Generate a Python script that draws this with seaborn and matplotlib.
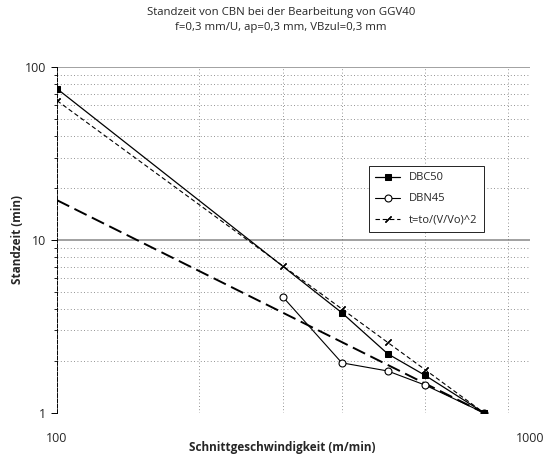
import matplotlib
matplotlib.use("Agg")
import matplotlib.pyplot as plt
import seaborn as sns
from matplotlib.ticker import FixedLocator, NullFormatter

# Cutting speed (m/min) and tool life (min)
v_dbc50 = [100, 400, 500, 600, 800]
t_dbc50 = [75, 3.8, 2.2, 1.65, 1.0]

v_dbn45 = [300, 400, 500, 600, 800]
t_dbn45 = [4.7, 1.95, 1.75, 1.45, 1.0]

v_taylor = [100, 300, 400, 500, 600, 800]
t_taylor = [64, 7.1, 4.0, 2.56, 1.78, 1.0]

v_trend = [100, 800]
t_trend = [17, 1.0]

title = "Standzeit von CBN bei der Bearbeitung von GGV40\nf=0,3 mm/U, ap=0,3 mm, VBzul=0,3 mm"
x_label = "Schnittgeschwindigkeit (m/min)"
y_label = "Standzeit (min)"
x_ticks = [100, 1000]
y_ticks = [1, 10, 100]

sns.set_theme(style="white")
plt.rcParams["font.family"] = ["Open Sans", "DejaVu Sans"]

fig = plt.figure(figsize=(5.45, 4.63), dpi=100)
ax = fig.add_axes([0.1046, 0.108, 0.868, 0.747])
ax.set_xscale("log")
ax.set_yscale("log")

ink = "black"
sns.lineplot(x=v_trend, y=t_trend, ax=ax, color=ink, lw=1.4,
             linestyle=(0, (7, 3)), label="_trend")
sns.lineplot(x=v_taylor, y=t_taylor, ax=ax, color=ink, lw=0.8,
             linestyle=(0, (4, 2.5)), marker=(2, 2, -45), markersize=6,
             markeredgewidth=0.9, markeredgecolor=ink,
             label="t=to/(V/Vo)^2")
sns.lineplot(x=v_dbn45, y=t_dbn45, ax=ax, color=ink, lw=0.8,
             marker="o", markersize=5, markerfacecolor="white",
             markeredgecolor=ink, markeredgewidth=0.8, label="DBN45")
sns.lineplot(x=v_dbc50, y=t_dbc50, ax=ax, color=ink, lw=0.9,
             marker="s", markersize=5, markerfacecolor=ink,
             markeredgecolor=ink, label="DBC50")

ax.set_xlim(100, 1000)
ax.set_ylim(1, 100)

# grid: solid grey decades, dotted in-between values
ax.yaxis.set_major_locator(FixedLocator(y_ticks))
ax.yaxis.set_minor_locator(FixedLocator(
    [k * d for d in (1, 10) for k in range(2, 10)]))
ax.xaxis.set_major_locator(FixedLocator(x_ticks))
ax.xaxis.set_minor_locator(FixedLocator([200, 300, 400, 600, 900]))
ax.yaxis.set_minor_formatter(NullFormatter())
ax.xaxis.set_minor_formatter(NullFormatter())
ax.set_yticklabels([str(v) for v in y_ticks])
ax.set_xticklabels([str(v) for v in x_ticks])

ax.grid(False)
for yv in (10, 100):
    ax.axhline(yv, color="#9a9a9a", lw=1.3, zorder=0)
ax.grid(which="minor", axis="y", color="#707070", lw=0.6,
        linestyle=(0, (1, 3)), zorder=0)
ax.grid(which="minor", axis="x", color="#707070", lw=0.6,
        linestyle=(0, (1, 3)), zorder=0)
ax.axhline(1, color="#707070", lw=0.7, linestyle=(0, (3, 2)), zorder=0)

for s in ("top", "right", "bottom"):
    ax.spines[s].set_visible(False)
ax.spines["left"].set_color(ink)
ax.spines["left"].set_linewidth(0.7)
ax.spines["left"].set_linestyle((0, (4, 1.5)))

ax.tick_params(axis="y", which="major", left=True, length=4, width=0.7,
               color=ink, labelsize=9, pad=4)
ax.tick_params(axis="y", which="minor", left=True, length=2, width=0.6,
               color=ink)
ax.tick_params(axis="x", which="both", bottom=False, labelsize=9, pad=8)

fig.text(282 / 545, 1 - 447 / 463, x_label, ha="center", va="center",
         fontsize=8.5, fontweight="bold")
fig.text(18 / 545, 1 - 240 / 463, y_label, ha="center", va="center",
         rotation=90, fontsize=8.5, fontweight="bold")

fig.text(0.516, 0.985, title, ha="center", va="top", fontsize=8.2,
         linespacing=1.5)

# legend lists the measured series first
handles, labels = ax.get_legend_handles_labels()
order = [labels.index(n) for n in ("DBC50", "DBN45", "t=to/(V/Vo)^2")]
leg = ax.legend([handles[i] for i in order], [labels[i] for i in order],
                loc="upper left", bbox_to_anchor=(0.647, 0.731),
                fontsize=8, frameon=True, fancybox=False, framealpha=1,
                edgecolor=ink, handlelength=2.2, borderpad=0.6,
                labelspacing=0.9)
leg.get_frame().set_linewidth(0.6)

fig.savefig("out.png", dpi=100)
